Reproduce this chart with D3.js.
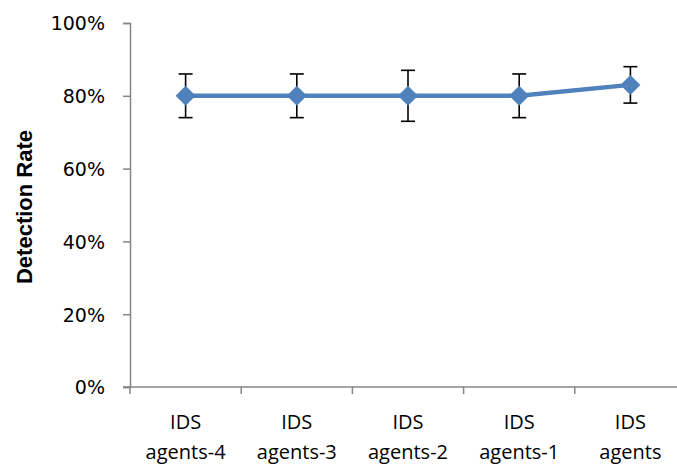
<!DOCTYPE html>
<html>
<head>
<meta charset="utf-8">
<script src="https://cdn.jsdelivr.net/npm/d3@7"></script>
<style>
  body { margin: 0; background: #fff; }
  svg { display: block; }
</style>
</head>
<body>
<div id="chart"></div>
<script>
// data
var categories = ["IDS agents-4", "IDS agents-3", "IDS agents-2", "IDS agents-1", "IDS agents"];
var detectionRate = [0.80, 0.80, 0.80, 0.80, 0.83];
var errorAmount = [0.06, 0.06, 0.07, 0.06, 0.05];
var yTicks = [0, 0.2, 0.4, 0.6, 0.8, 1.0];

var W = 677, H = 466;

var svg = d3.select("#chart")
  .append("svg")
    .attr("width", W)
    .attr("height", H);

// plot area runs a bit past the right edge of the picture
var x = d3.scaleBand()
  .domain(categories)
  .range([130, 686]);

var y = d3.scaleLinear()
  .domain([0, 1])
  .range([387, 23]);

var axisColor = "#868686";

// y axis
var yAxis = svg.append("g")
  .attr("transform", "translate(130,0)")
  .call(d3.axisLeft(y).tickValues(yTicks).tickFormat(d3.format(".0%")).tickSize(7).tickPadding(18));
yAxis.select(".domain").attr("stroke", axisColor).attr("stroke-width", 1.5);
yAxis.selectAll(".tick line").attr("stroke", axisColor).attr("stroke-width", 1.5);
yAxis.selectAll(".tick text")
  .attr("fill", "#000")
  .attr("dy", "0.36em")
  .style("font-family", "DejaVu Sans, Verdana, sans-serif")
  .style("font-size", "19px");

// x axis
var xAxis = svg.append("g")
  .attr("transform", "translate(0,387)");
xAxis.append("line")
  .attr("x1", 123).attr("x2", W)
  .attr("stroke", axisColor).attr("stroke-width", 1.5);
xAxis.selectAll(".xtick")
  .data(categories)
  .enter()
  .append("line")
    .attr("class", "xtick")
    .attr("x1", function(d) { return x(d); })
    .attr("x2", function(d) { return x(d); })
    .attr("y1", 0).attr("y2", 7)
    .attr("stroke", axisColor).attr("stroke-width", 1.5);

var xLabels = xAxis.selectAll(".xlabel")
  .data(categories)
  .enter()
  .append("text")
    .attr("class", "xlabel")
    .attr("text-anchor", "middle")
    .attr("transform", function(d) { return "translate(" + (x(d) + x.bandwidth() / 2) + ",0)"; })
    .style("font-family", "Open Sans, sans-serif")
    .style("font-size", "20px")
    .attr("fill", "#000");
xLabels.append("tspan")
  .attr("x", 0).attr("y", 42)
  .text(function(d) { return d.split(" ")[0]; });
xLabels.append("tspan")
  .attr("x", 0).attr("y", 72)
  .text(function(d) { return d.split(" ")[1]; });

// y title
svg.append("text")
  .attr("transform", "translate(32,207) rotate(-90)")
  .attr("text-anchor", "middle")
  .style("font-family", "Liberation Sans, Arial, sans-serif")
  .style("font-weight", "bold")
  .style("font-size", "22px")
  .text("Detection Rate");

var cx = function(i) { return x(categories[i]) + x.bandwidth() / 2; };

// error bars
var err = svg.append("g");
detectionRate.forEach(function(v, i) {
  var top = y(v + errorAmount[i]), bot = y(v - errorAmount[i]);
  err.append("line")
    .attr("x1", cx(i)).attr("x2", cx(i))
    .attr("y1", top).attr("y2", bot)
    .attr("stroke", "#000").attr("stroke-width", 1.6);
  [top, bot].forEach(function(yy) {
    err.append("line")
      .attr("x1", cx(i) - 7).attr("x2", cx(i) + 7)
      .attr("y1", yy).attr("y2", yy)
      .attr("stroke", "#000").attr("stroke-width", 1.6);
  });
});

// the line
svg.append("path")
  .datum(detectionRate)
  .attr("d", d3.line()
    .x(function(d, i) { return cx(i); })
    .y(function(d) { return y(d); }))
  .attr("fill", "none")
  .attr("stroke", "#4F81BD")
  .attr("stroke-width", 4.5);

// diamond markers
svg.selectAll(".marker")
  .data(detectionRate)
  .enter()
  .append("path")
    .attr("class", "marker")
    .attr("d", "M0,-10L10,0L0,10L-10,0Z")
    .attr("transform", function(d, i) { return "translate(" + cx(i) + "," + y(d) + ")"; })
    .attr("fill", "#4F81BD");
</script>
</body>
</html>
